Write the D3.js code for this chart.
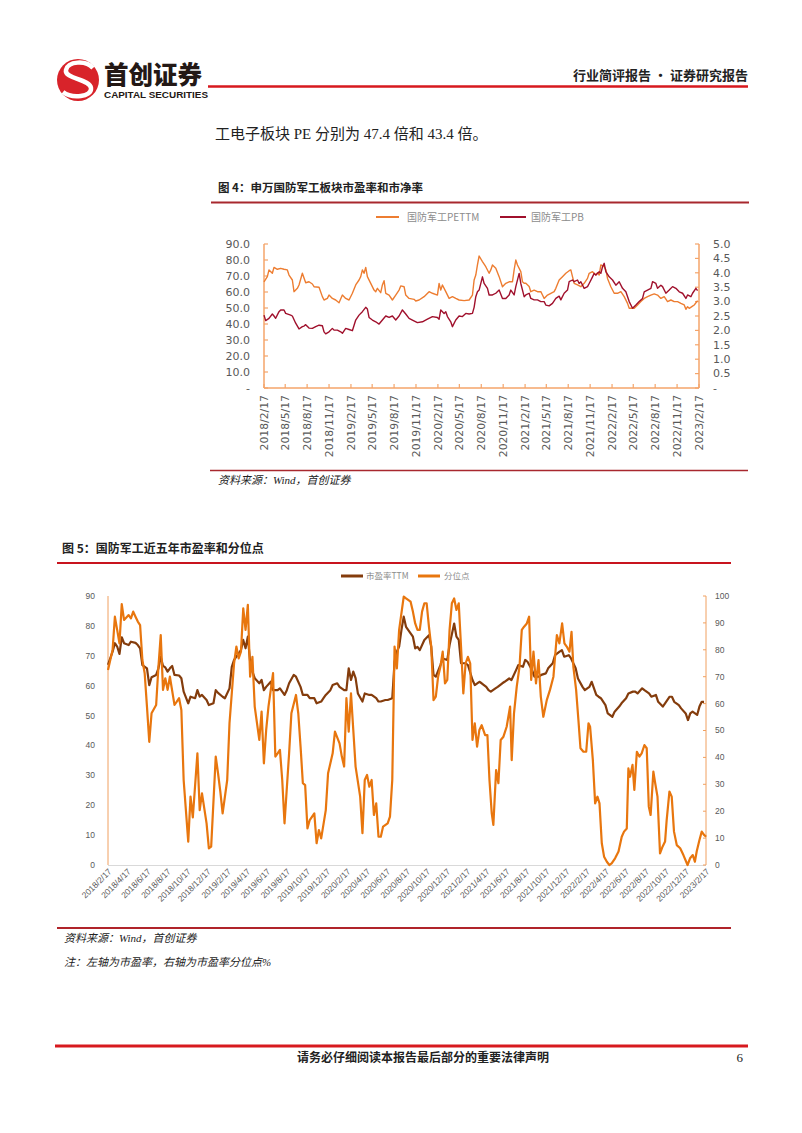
<!DOCTYPE html>
<html><head><meta charset="utf-8">
<script src="https://cdn.jsdelivr.net/npm/d3@7"></script>
<style>body{margin:0;background:#fff}svg{display:block}</style>
</head><body>
<svg id="c" width="802" height="1133"></svg>
<script>
// ---------------- DATA ----------------
// week offsets from 2018/2/17, value
const pe1Series = [[0,66.4],[2,69.6],[3,73.8],[5,71.7],[6,75.4],[8,74.2],[10,74.8],[12,74.2],[14,73.8],[15,70.6],[17,67.5],[18,60.2],[20,62.3],[21,64.4],[23,71.7],[25,65.8],[27,66.4],[29,65],[30,63.3],[33,63],[35,57.1],[36,55],[38,56],[39,58.1],[41,56],[43,55],[45,53.3],[47,58.1],[49,56],[51,55],[53,59.2],[55,64.4],[57,67.5],[58,69.6],[59,73.8],[60,71.7],[61,75.4],[62,69.6],[64,65.4],[66,61.2],[67,60.2],[68,62.3],[70,59.6],[71,64.4],[72,67.1],[73,59.2],[75,58.1],[77,55],[79,58.1],[81,61.2],[82,63.8],[84,63.3],[85,58.1],[87,56],[90,55.4],[91,54.4],[93,55],[96,57.1],[99,60.2],[101,59.2],[104,58.1],[105,65.4],[106,61.2],[107,64.4],[109,60.2],[111,56],[113,57.1],[115,56],[117,55],[120,54.6],[123,55],[125,58.1],[126,67.5],[127,70.6],[128,76.9],[129,82.5],[131,79],[133,75.8],[135,71.7],[136,73.8],[137,76.9],[139,74.8],[141,69.6],[143,63.3],[145,65.4],[147,66.4],[149,66.4],[150,73.8],[151,80],[152,76.9],[154,72.7],[155,66.4],[156,65.5],[157,65.5],[159,63.4],[160,60.2],[162,61.2],[164,60.2],[166,60.2],[167,58.1],[168,56],[170,58.1],[172,59.2],[174,60.2],[175,62.3],[177,67.5],[179,69.6],[181,71.7],[183,73.3],[184,73.8],[185,69.6],[186,65.4],[188,64.4],[190,63.3],[192,65.4],[194,68.5],[195,71.7],[197,72.7],[199,70.6],[200,72.1],[201,70.6],[202,76.9],[204,75.8],[205,73.8],[206,68.5],[208,63.3],[210,59.2],[212,59.2],[214,60.2],[216,57.1],[218,52.9],[219,49.8],[222,49.8],[224,51.9],[226,54],[228,56],[230,57.1],[232,58.1],[234,58.8],[236,58.1],[238,56],[240,57.1],[242,54],[244,55],[246,54],[248,54],[250,52.9],[252,51.9],[253,49.2],[254,50.8],[255,49.8],[257,51.2],[258,51.9],[260,54.6]];
const pb1Series = [[0,2.53],[1,2.34],[3,2.42],[5,2.57],[6,2.5],[7,2.42],[9,2.65],[10,2.71],[12,2.71],[13,2.59],[16,2.53],[17,2.5],[19,2.25],[21,2.05],[23,2.13],[24,2.15],[25,2.2],[27,2.08],[29,2.07],[31,2.13],[33,2.18],[35,2.16],[36,1.95],[37,1.88],[39,1.95],[41,2.07],[42,2.01],[44,2.01],[46,1.95],[47,1.9],[49,2.07],[51,2.03],[53,1.99],[55,2.36],[57,2.53],[59,2.65],[61,2.8],[62,2.74],[63,2.45],[65,2.36],[67,2.3],[69,2.22],[71,2.36],[73,2.5],[75,2.45],[77,2.5],[79,2.36],[81,2.5],[83,2.71],[85,2.57],[87,2.42],[89,2.36],[92,2.27],[95,2.3],[98,2.39],[101,2.48],[104,2.45],[105,2.39],[106,2.71],[108,2.59],[109,2.65],[110,2.48],[112,2.3],[113,2.13],[115,2.36],[117,2.5],[119,2.48],[121,2.59],[123,2.57],[125,2.59],[126,2.8],[127,3.17],[128,3.34],[129,3.4],[131,3.86],[132,3.63],[134,3.46],[135,3.23],[137,3.23],[139,3.29],[141,3.4],[143,3.11],[145,3.11],[147,3.23],[148,3.4],[150,3.23],[151,3.52],[153,3.98],[154,3.63],[156,3.17],[157,3.23],[159,3.29],[160,3.11],[162,3.06],[164,3.06],[166,3.0],[168,3.0],[169,2.88],[171,2.85],[173,2.94],[175,3.11],[177,3.19],[178,3.06],[180,3.29],[182,3.4],[183,3.69],[185,3.75],[186,3.69],[188,3.75],[189,3.63],[190,3.69],[192,3.46],[194,3.52],[195,3.63],[197,3.86],[198,3.98],[199,3.92],[201,4.04],[202,3.98],[203,4.21],[204,4.33],[205,4.04],[207,3.86],[209,3.75],[211,3.57],[213,3.69],[215,3.46],[217,3.34],[219,3.0],[221,2.77],[223,2.88],[225,3.0],[227,3.11],[228,3.34],[230,3.4],[232,3.46],[233,3.69],[235,3.63],[236,3.46],[238,3.57],[239,3.52],[241,3.29],[243,3.4],[245,3.52],[247,3.46],[249,3.34],[251,3.29],[253,3.11],[254,3.23],[256,3.17],[257,3.29],[259,3.46],[260,3.38]];
const pe2Series = [[0,67],[2,71.4],[3,74.2],[4,73.1],[5,70.6],[6,76.2],[7,74.2],[9,73.6],[10,74.7],[12,74.3],[13,73.6],[14,72.5],[15,66.9],[17,65.8],[18,60.2],[19,62.8],[21,63.6],[22,65.8],[23,69.7],[24,66.6],[25,66.1],[26,64.7],[27,65.8],[28,66.6],[29,63.6],[31,63.4],[32,62.5],[33,58],[35,54.1],[36,56.3],[38,55.8],[39,58.5],[40,56.3],[41,56.9],[43,55.2],[44,53.5],[46,54.1],[47,58.5],[48,57.6],[50,56.3],[51,55.8],[53,59.1],[54,66.3],[55,68.6],[57,70.8],[58,71.9],[59,75.3],[60,72.5],[61,76.4],[62,68],[63,64.7],[64,62.5],[66,60.8],[67,61.9],[68,58.5],[69,59.6],[71,61.3],[72,58.5],[74,58.5],[75,59.1],[77,56.9],[78,58.5],[79,60.8],[81,63.6],[82,63],[84,59.6],[85,56.9],[87,56.9],[88,55.8],[90,55.8],[91,54.1],[93,54.7],[94,55.8],[95,56.9],[97,58.5],[98,60.2],[100,60.8],[101,59.6],[103,58.5],[104,58.5],[105,65.8],[106,61.9],[107,64.7],[108,62.5],[109,57.4],[111,54.7],[112,57.4],[114,56.9],[115,56.9],[117,55.8],[118,54.7],[119,54.7],[121,55.2],[122,55.2],[124,55.8],[125,68],[126,71.4],[127,73.1],[128,78.6],[129,83.1],[130,79.7],[132,77.5],[133,76.4],[134,72.5],[135,73],[136,71.9],[138,75.3],[140,76.9],[141,73],[142,63.6],[143,63],[145,66.9],[146,69.1],[148,68.6],[149,73.6],[151,80.8],[152,76.4],[153,75.3],[154,67.5],[156,67.5],[157,66.9],[159,61.9],[160,60.2],[162,61.3],[163,60.8],[165,59.6],[166,58.5],[167,58],[169,59.1],[170,59.6],[172,60.8],[173,61.3],[175,62.4],[176,61.9],[178,65.2],[179,66.9],[181,66.3],[182,68.6],[183,68],[185,65.2],[186,63],[188,63],[189,63.6],[191,64.1],[192,65.8],[194,67.5],[195,70.2],[197,71.4],[198,71.9],[199,69.7],[201,70.2],[202,69.1],[204,65.8],[205,62.4],[207,59.6],[208,58.5],[210,59.6],[211,61.3],[213,56.9],[214,56.3],[215,55.8],[217,53.5],[218,50.7],[220,49.6],[221,51.3],[223,53],[224,54.1],[226,55.8],[227,57.4],[229,58],[230,58],[231,57.4],[233,59.1],[234,58.5],[236,57.4],[237,56.3],[239,56.9],[240,54.6],[242,53],[243,54.1],[245,56.3],[246,56.3],[247,54.6],[249,53.5],[250,52.4],[252,50.7],[253,48.5],[254,50.7],[255,51.3],[257,50.2],[258,53],[259,54.6],[260,54.6]];
const pct2Series = [[0,72.5],[2,79.9],[3,92.3],[4,87.4],[5,82.4],[6,97],[7,91.1],[9,92.9],[10,91.7],[11,94.2],[12,92.3],[13,90.5],[14,89.2],[15,76.2],[16,71.3],[17,58.9],[18,45.8],[19,56.4],[21,59.5],[22,73.7],[23,85.5],[24,65.1],[25,69.4],[26,65.1],[27,70],[29,59.5],[30,60.7],[31,62],[32,57.6],[33,31.6],[35,8.7],[36,25.4],[37,17.7],[39,41.5],[40,20.4],[41,26.6],[43,15.5],[44,6.2],[45,6.8],[47,40.3],[48,34.1],[49,27.3],[50,19.2],[52,31.6],[53,52.7],[55,75],[56,81.2],[57,76.8],[58,79.3],[59,95.4],[60,87.4],[61,96.7],[62,70],[63,77.4],[64,58.9],[66,46.5],[67,57],[68,37.8],[69,50.2],[70,58.9],[72,71.3],[73,40.3],[74,41.5],[75,42.8],[76,31.6],[77,15.5],[79,41.5],[80,56.4],[82,63.2],[83,56.4],[84,44],[85,30.4],[86,29.7],[87,13.6],[88,16.7],[90,19.2],[91,8.1],[92,13],[93,9.9],[95,20.4],[96,34.1],[98,41.5],[99,49.6],[101,45.2],[102,40.3],[103,36.6],[104,62],[105,49.6],[106,63.8],[107,50.2],[108,36.6],[110,25.4],[111,11.8],[112,31.6],[113,33.5],[114,29.1],[115,31.6],[116,18.6],[117,22.9],[118,10.5],[119,10.5],[120,14.3],[122,15.5],[123,18],[124,31.6],[125,81.2],[126,73.1],[127,87.4],[129,99.8],[130,99.1],[132,97.9],[133,94.2],[134,89.8],[135,87.4],[136,87.4],[137,94.2],[138,97.3],[139,97.3],[140,88.6],[141,81.2],[142,61.3],[143,62.6],[144,70],[145,73.7],[146,79.3],[147,67.5],[148,68.8],[149,87.4],[150,97.3],[151,99.1],[152,94.8],[153,97.3],[154,81.2],[155,63.8],[156,75],[157,77.4],[158,75],[159,46.5],[160,52.7],[161,44],[162,50.2],[163,52],[164.5,48.3],[165.5,48.3],[166.4,31.6],[167.4,19.2],[168.1,14.9],[169.3,35.3],[170.3,30.4],[171.3,46.5],[172.5,47.7],[173.9,51.4],[175.4,58.9],[176.1,39],[177.1,56.4],[178.3,66.3],[179.5,73.7],[180.5,87.4],[181.5,88.6],[182.7,89.8],[183.7,92.3],[184.6,68.8],[185.6,79.3],[186.7,67.5],[187.8,76.2],[188.8,62.6],[189.9,55.1],[191.4,61.3],[192.8,65.1],[194.3,70],[195.8,85.5],[196.9,82.4],[198.1,89.8],[199.1,82.4],[200.1,81.2],[201.3,79.3],[202.2,86.7],[203,73.7],[204.2,65.1],[205.2,53.9],[206.1,43.4],[207.4,42.1],[208.6,42.1],[209.6,52.7],[210.3,51.4],[211.5,39],[212.5,22.9],[213.5,25.4],[214.4,22.9],[215.4,8.1],[216.4,3.1],[217.6,1.2],[218.7,0],[219.7,0.6],[221.2,2.5],[222.7,5],[224.1,10.5],[225.1,12.4],[226.3,13.6],[227,35.9],[227.7,32.8],[228.8,37.2],[229.6,27.9],[230.7,42.1],[231.8,40.3],[232.8,41.5],[234,44.6],[235,43.4],[235.9,21.7],[236.7,18.6],[237.9,34.7],[238.7,30.4],[239.7,25.4],[240.8,4.3],[241.9,6.8],[243,8.7],[243.7,16.7],[244.9,27.3],[245.9,25.4],[246.9,12.4],[248.1,7.4],[249.6,6.2],[251,3.7],[252.8,0],[253.9,2.5],[255.1,3.7],[256,1.2],[256.8,5],[258,9.3],[259,12.4],[260,11.2],[260.9,10.5]];

const c1XLabels = ["2018/2/17","2018/5/17","2018/8/17","2018/11/17","2019/2/17","2019/5/17","2019/8/17","2019/11/17","2020/2/17","2020/5/17","2020/8/17","2020/11/17","2021/2/17","2021/5/17","2021/8/17","2021/11/17","2022/2/17","2022/5/17","2022/8/17","2022/11/17","2023/2/17"];
const c1LeftTicks = [0,10,20,30,40,50,60,70,80,90];
const c1LeftLabels = ["-","10.0","20.0","30.0","40.0","50.0","60.0","70.0","80.0","90.0"];
const c1RightTicks = [0,0.5,1,1.5,2,2.5,3,3.5,4,4.5,5];
const c1RightLabels = ["-","0.5","1.0","1.5","2.0","2.5","3.0","3.5","4.0","4.5","5.0"];
const c1Legend = ["国防军工PETTM","国防军工PB"];

const c2XLabels = ["2018/2/17","2018/4/17","2018/6/17","2018/8/17","2018/10/17","2018/12/17","2019/2/17","2019/4/17","2019/6/17","2019/8/17","2019/10/17","2019/12/17","2020/2/17","2020/4/17","2020/6/17","2020/8/17","2020/10/17","2020/12/17","2021/2/17","2021/4/17","2021/6/17","2021/8/17","2021/10/17","2021/12/17","2022/2/17","2022/4/17","2022/6/17","2022/8/17","2022/10/17","2022/12/17","2023/2/17"];
const c2LeftTicks = [0,10,20,30,40,50,60,70,80,90];
const c2RightTicks = [0,10,20,30,40,50,60,70,80,90,100];
const c2Legend = ["市盈率TTM","分位点"];

// ---------------- RENDER ----------------
const svg = d3.select("#c");
const CJK = "'Noto Sans CJK SC', sans-serif";
const parse = d3.timeParse("%Y/%m/%d");
const START = parse("2018/2/17"), END = parse("2023/2/17");
const wk = w => new Date(START.getTime() + w * 7 * 864e5);

// header
svg.append("circle").attr("cx",78).attr("cy",80).attr("r",21).attr("fill","#D8232A");
svg.append("path").attr("d","M93,68 C86,60 68,61 66,70 C64,79 90,79 91,88 C92,97 72,99 63,92")
  .attr("fill","none").attr("stroke","#fff").attr("stroke-width",4.5);
svg.append("text").attr("x",104).attr("y",84).text("首创证券")
  .attr("font-family",CJK).attr("font-weight",900).attr("font-size",24.5).attr("fill","#231815");
svg.append("text").attr("x",104).attr("y",97.5).text("CAPITAL SECURITIES")
  .attr("font-family","'Liberation Sans',Arial").attr("font-weight","bold").attr("font-size",8.4)
  .attr("textLength",104).attr("lengthAdjust","spacingAndGlyphs").attr("fill","#231815");
svg.append("line").attr("x1",208).attr("x2",748).attr("y1",86.5).attr("y2",86.5).attr("stroke","#D7191E").attr("stroke-width",2.6);
svg.append("text").attr("x",748).attr("y",80).attr("text-anchor","end").text("行业简评报告 · 证券研究报告")
  .attr("font-family",CJK).attr("font-weight","bold").attr("font-size",13).attr("fill","#222");

svg.append("text").attr("x",215).attr("y",139).text("工电子板块 PE 分别为 47.4 倍和 43.4 倍。")
  .attr("font-family","'Liberation Serif', 'Noto Sans CJK SC', serif").attr("font-size",15).attr("fill","#222");

// ---------- chart 1 ----------
svg.append("text").attr("x",218).attr("y",192).text("图 4：申万国防军工板块市盈率和市净率")
  .attr("font-family",CJK).attr("font-weight",600).attr("font-size",11.5).attr("fill","#222");
svg.append("line").attr("x1",211).attr("x2",749).attr("y1",202.5).attr("y2",202.5).attr("stroke","#A8282E").attr("stroke-width",2);

const x1 = d3.scaleTime().domain([START,END]).range([264,699]);
const yL1 = d3.scaleLinear().domain([0,90]).range([388,244]);
const yR1 = d3.scaleLinear().domain([0,5]).range([388,244]);
const c1Orange = "#ED7D31", c1Red = "#A0102C", c1Axis = "#F4A46A", grey = "#595959";

const g1 = svg.append("g");
g1.append("line").attr("x1",264).attr("x2",264).attr("y1",yL1(90)).attr("y2",yL1(0)).attr("stroke",c1Axis).attr("stroke-width",1.5);
g1.append("line").attr("x1",699).attr("x2",699).attr("y1",yR1(5)).attr("y2",yR1(0)).attr("stroke",c1Axis).attr("stroke-width",1.5);
g1.append("line").attr("x1",264).attr("x2",699).attr("y1",388).attr("y2",388).attr("stroke",c1Axis).attr("stroke-width",1.5);
c1LeftTicks.forEach((v,i)=>{
  g1.append("line").attr("x1",264).attr("x2",268).attr("y1",yL1(v)).attr("y2",yL1(v)).attr("stroke",c1Axis).attr("stroke-width",1.2);
  g1.append("text").attr("x",250).attr("y",yL1(v)).attr("dy","0.35em").attr("text-anchor","end").text(c1LeftLabels[i])
    .attr("font-family","'DejaVu Sans'").attr("font-size",11).attr("fill",grey);
});
c1RightTicks.forEach((v,i)=>{
  g1.append("line").attr("x1",695).attr("x2",699).attr("y1",yR1(v)).attr("y2",yR1(v)).attr("stroke",c1Axis).attr("stroke-width",1.2);
  g1.append("text").attr("x",713).attr("y",yR1(v)).attr("dy","0.35em").text(c1RightLabels[i])
    .attr("font-family","'DejaVu Sans'").attr("font-size",11).attr("fill",grey);
});
c1XLabels.forEach(s=>{
  const xx = x1(parse(s));
  g1.append("line").attr("x1",xx).attr("x2",xx).attr("y1",388).attr("y2",384).attr("stroke",c1Axis).attr("stroke-width",1.2);
  g1.append("text").attr("transform",`translate(${xx},395) rotate(-90)`).attr("dy","0.36em").attr("text-anchor","end").text(s)
    .attr("font-family","'DejaVu Sans'").attr("font-size",10.8).attr("fill",grey);
});
const line1PE = d3.line().x(d=>x1(wk(d[0]))).y(d=>yL1(d[1]));
const line1PB = d3.line().x(d=>x1(wk(d[0]))).y(d=>yR1(d[1]));
g1.append("path").attr("d",line1PE(pe1Series)).attr("fill","none").attr("stroke",c1Orange).attr("stroke-width",1.4).attr("stroke-linejoin","round");
g1.append("path").attr("d",line1PB(pb1Series)).attr("fill","none").attr("stroke",c1Red).attr("stroke-width",1.4).attr("stroke-linejoin","round");
// legend 1
[[376,399,407,c1Orange],[500,526,531,c1Red]].forEach((p,i)=>{
  g1.append("line").attr("x1",p[0]).attr("x2",p[1]).attr("y1",217).attr("y2",217).attr("stroke",p[3]).attr("stroke-width",2);
  g1.append("text").attr("x",p[2]).attr("y",217).attr("dy","0.35em").text(c1Legend[i])
    .attr("font-family",CJK).attr("font-size",10).attr("fill","#8c8c8c");
});
svg.append("line").attr("x1",210).attr("x2",748).attr("y1",470.5).attr("y2",470.5).attr("stroke","#A8282E").attr("stroke-width",1.6);
svg.append("text").attr("x",218).attr("y",484).text("资料来源：Wind，首创证券")
  .attr("font-family","'Liberation Serif','Noto Sans CJK SC'").attr("font-style","italic").attr("font-size",11).attr("fill","#222");

// ---------- chart 2 ----------
svg.append("text").attr("x",62).attr("y",553).text("图 5：国防军工近五年市盈率和分位点")
  .attr("font-family",CJK).attr("font-weight",600).attr("font-size",12).attr("fill","#222");
svg.append("line").attr("x1",57).attr("x2",731).attr("y1",563).attr("y2",563).attr("stroke","#C8141E").attr("stroke-width",1.8);

const x2 = d3.scaleTime().domain([START,END]).range([108,706]);
const yL2 = d3.scaleLinear().domain([0,90]).range([865,596]);
const yR2 = d3.scaleLinear().domain([0,100]).range([865,596]);
const c2Brown = "#843C0C", c2Orange = "#E8760E", c2Axis = "#F0A060";
const g2 = svg.append("g");
g2.append("line").attr("x1",108).attr("x2",706).attr("y1",865.5).attr("y2",865.5).attr("stroke","#D9D9D9").attr("stroke-width",1);
g2.append("line").attr("x1",108).attr("x2",108).attr("y1",596).attr("y2",865).attr("stroke",c2Axis).attr("stroke-width",1);
g2.append("line").attr("x1",706).attr("x2",706).attr("y1",596).attr("y2",865).attr("stroke",c2Axis).attr("stroke-width",1);
c2LeftTicks.forEach(v=>{
  g2.append("text").attr("x",95).attr("y",yL2(v)).attr("dy","0.35em").attr("text-anchor","end").text(v)
    .attr("font-family","'Liberation Sans',Arial").attr("font-size",8.5).attr("fill",grey);
});
c2RightTicks.forEach(v=>{
  g2.append("line").attr("x1",703).attr("x2",706).attr("y1",yR2(v)).attr("y2",yR2(v)).attr("stroke",c2Axis).attr("stroke-width",1);
  g2.append("text").attr("x",715).attr("y",yR2(v)).attr("dy","0.35em").text(v)
    .attr("font-family","'Liberation Sans',Arial").attr("font-size",8.5).attr("fill",grey);
});
c2XLabels.forEach(s=>{
  const xx = x2(parse(s));
  g2.append("text").attr("transform",`translate(${xx+2},870) rotate(-45)`).attr("dy","0.35em").attr("text-anchor","end").text(s)
    .attr("font-family","'Liberation Sans',Arial").attr("font-size",8.5).attr("fill",grey);
});
const line2L = d3.line().x(d=>x2(wk(d[0]))).y(d=>yL2(d[1]));
const line2R = d3.line().x(d=>x2(wk(d[0]))).y(d=>yR2(d[1]));
g2.append("path").attr("d",line2L(pe2Series)).attr("fill","none").attr("stroke",c2Brown).attr("stroke-width",2.2).attr("stroke-linejoin","round");
g2.append("path").attr("d",line2R(pct2Series)).attr("fill","none").attr("stroke",c2Orange).attr("stroke-width",2.2).attr("stroke-linejoin","round");
[[341,363,366,c2Brown],[418,440,444,c2Orange]].forEach((p,i)=>{
  g2.append("line").attr("x1",p[0]).attr("x2",p[1]).attr("y1",576).attr("y2",576).attr("stroke",p[3]).attr("stroke-width",3);
  g2.append("text").attr("x",p[2]).attr("y",576).attr("dy","0.35em").text(c2Legend[i])
    .attr("font-family",CJK).attr("font-size",8.5).attr("fill","#8c8c8c");
});
svg.append("line").attr("x1",57).attr("x2",731).attr("y1",928).attr("y2",928).attr("stroke","#B0242A").attr("stroke-width",1.8);
svg.append("text").attr("x",64).attr("y",942).text("资料来源：Wind，首创证券")
  .attr("font-family","'Liberation Serif','Noto Sans CJK SC'").attr("font-style","italic").attr("font-size",11).attr("fill","#222");
svg.append("text").attr("x",64).attr("y",966).text("注：左轴为市盈率，右轴为市盈率分位点%")
  .attr("font-family","'Liberation Serif','Noto Sans CJK SC'").attr("font-style","italic").attr("font-size",11).attr("fill","#222");

// footer
svg.append("line").attr("x1",55).attr("x2",748).attr("y1",1046).attr("y2",1046).attr("stroke","#D7191E").attr("stroke-width",3);
svg.append("text").attr("x",423).attr("y",1062).attr("text-anchor","middle").text("请务必仔细阅读本报告最后部分的重要法律声明")
  .attr("font-family",CJK).attr("font-weight","bold").attr("font-size",12).attr("fill","#222");
svg.append("text").attr("x",743).attr("y",1062).attr("text-anchor","end").text("6")
  .attr("font-family","'Liberation Serif'").attr("font-size",13).attr("fill","#222");
</script>
</body></html>
